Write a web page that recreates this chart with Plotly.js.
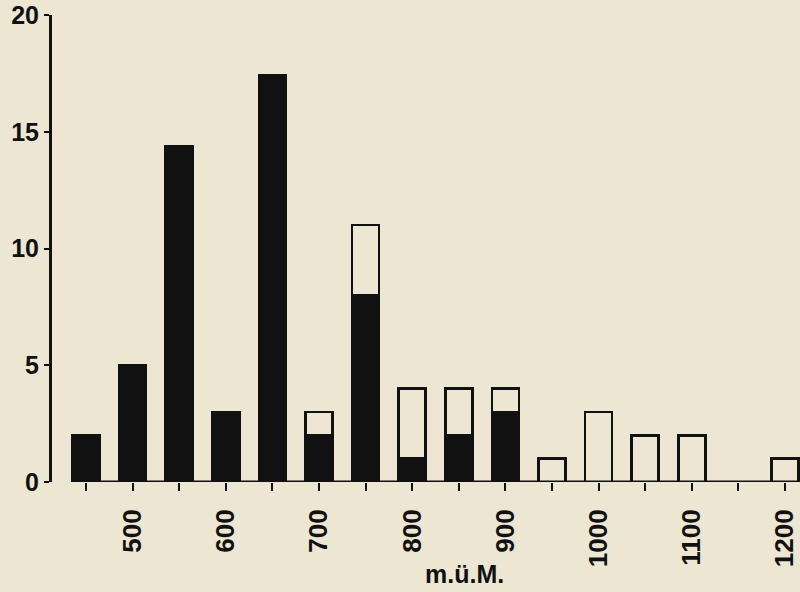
<!DOCTYPE html>
<html>
<head>
<meta charset="utf-8">
<script src="https://cdn.plot.ly/plotly-3.0.1.min.js"></script>
<style>
html,body{margin:0;padding:0;background:#ece6d2;}
#chart{width:800px;height:592px;}
</style>
</head>
<body>
<div id="chart"></div>
<script>
// Elevation classes (m ü. M.)
const elevations = [450, 500, 550, 600, 650, 700, 750, 800, 850, 900, 950, 1000, 1050, 1100, 1150, 1200];
// Black (filled) part of each bar
const blackCounts = [2, 5, 14.4, 3, 17.4, 2, 8, 1, 2, 3, 0, 0, 0, 0, 0, 0];
// Total height of each bar (black + white)
const totalCounts = [2, 5, 14.4, 3, 17.4, 3, 11, 4, 4, 4, 1, 3, 2, 2, 0, 1];
// Tick labels on the x axis
const xTickVals = [450, 500, 550, 600, 650, 700, 750, 800, 850, 900, 950, 1000, 1050, 1100, 1150, 1200];
const xTickText = ['', '500', '', '600', '', '700', '', '800', '', '900', '', '1000', '', '1100', '', '1200'];
const yTickVals = [0, 5, 10, 15, 20];

const bg = '#ece6d2';
const whiteCounts = totalCounts.map((t, i) => t - blackCounts[i]);
const blackY = blackCounts.map(v => v > 0 ? v : null);
const whiteY = whiteCounts.map(v => v > 0 ? v : null);

const traces = [
  {type: 'bar', x: elevations, y: blackY, width: 29,
   marker: {color: '#111111', line: {color: '#111111', width: 2.5}}, hoverinfo: 'skip'},
  {type: 'bar', x: elevations, y: whiteY, width: 29,
   marker: {color: bg, line: {color: '#111111', width: 2.5}}, hoverinfo: 'skip'}
];

const font = 'Liberation Sans, Arial, sans-serif';
const layout = {
  width: 800, height: 592,
  margin: {l: 52, r: 0, t: 15, b: 110},
  paper_bgcolor: bg, plot_bgcolor: bg,
  barmode: 'stack', bargap: 0, showlegend: false,
  xaxis: {
    range: [413.5, 1216.1], showgrid: false, zeroline: false, showline: false,
    tickmode: 'array', tickvals: xTickVals, ticktext: xTickText,
    ticks: 'outside', ticklen: 8, tickwidth: 2, tickcolor: '#111',
    tickangle: -90, ticklabelstandoff: 8, ticklabeloverflow: 'allow',
    tickfont: {family: font, size: 26, color: '#111', weight: 'bold'}
  },
  yaxis: {
    range: [0, 20], showgrid: false, zeroline: false, showline: true,
    linecolor: '#111', linewidth: 3,
    tickmode: 'array', tickvals: yTickVals,
    ticks: 'outside', ticklen: 5, tickwidth: 2, tickcolor: '#111',
    tickfont: {family: font, size: 25, color: '#111', weight: 'bold'}
  },
  shapes: [
    {type: 'line', xref: 'x', yref: 'y', x0: 435.5, x1: 1216.1, y0: 0, y1: 0,
     line: {color: '#111', width: 3}}
  ],
  annotations: [
    {text: 'm.ü.M.', xref: 'paper', yref: 'paper', x: 0.552, y: -0.196,
     xanchor: 'center', yanchor: 'middle', showarrow: false,
     font: {family: font, size: 25, color: '#111', weight: 'bold'}}
  ]
};

Plotly.newPlot('chart', traces, layout, {displayModeBar: false, staticPlot: true});
</script>
</body>
</html>
